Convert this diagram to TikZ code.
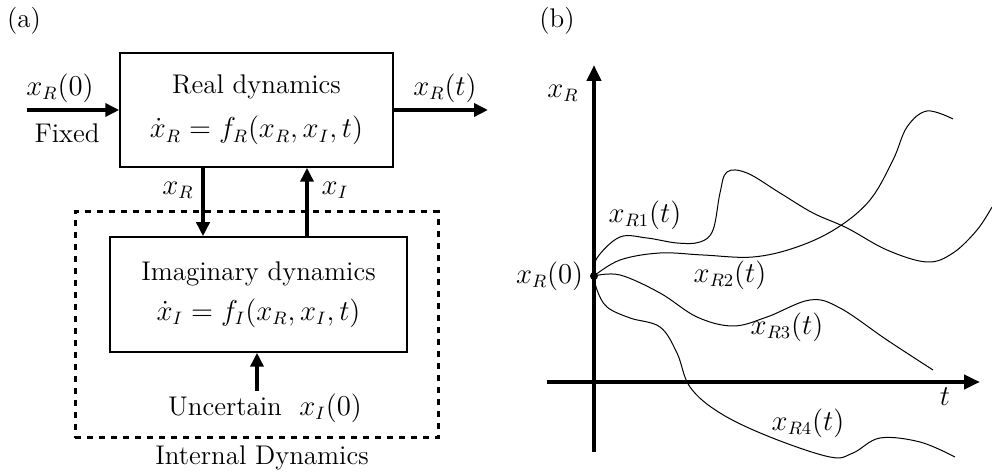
\documentclass[tikz,border=0pt]{standalone}
\usepackage{amsmath}
\usetikzlibrary{arrows.meta,positioning}

\begin{document}
\begin{tikzpicture}[
  x=0.5pt, y=-0.5pt,
  font=\fontsize{13.5}{16}\selectfont,
  blk/.style={draw, line width=0.75pt, inner sep=2pt, align=center},
  sig/.style={line width=2pt, -{Triangle[length=7pt,width=6.5pt]}},
  axis/.style={line width=2pt, -{Triangle[length=8pt,width=7pt]}},
  traj/.style={line width=0.5pt},
  lbl/.style={inner sep=1pt}
]
\useasboundingbox (0,0) rectangle (992,475);
% Panel (a): block diagram
\node[lbl] (tagA) at (24,21) {(a)};
\node[blk, minimum width=136.5pt, minimum height=57pt] (real) at (256.5,110)
  {Real dynamics\\[6pt] $\dot x_R = f_R(x_R, x_I, t)$};
\node[draw, dashed, line width=1.5pt, minimum width=181.5pt, minimum height=113pt] (internal) at (256.5,325) {};
\node[blk, minimum width=148.5pt, minimum height=57.5pt] (imag) at (258.5,294.5)
  {Imaginary dynamics\\[4pt] $\dot x_I = f_I(x_R, x_I, t)$};
\node[lbl] (intlbl) at (262,458) {Internal Dynamics};
\node[lbl] (unc) at (265,408) {Uncertain\ \ $x_I(0)$};
\coordinate (in) at (27,110);
\coordinate (out) at (488,110);
\node[lbl] (x0in) at (60,88) {$x_R(0)$};
\node[lbl] (fixed) at (67,133) {Fixed};
\node[lbl] (xtout) at (445,88) {$x_R(t)$};
\node[lbl] (xrdown) at (178,190) {$x_R$};
\node[lbl] (xiup) at (335,190) {$x_I$};
\draw[sig] (in) -- (real.west);
\draw[sig] (real.east) -- (out);
\draw[sig] (real.south -| 203,0) -- (imag.north -| 203,0);
\draw[sig] (imag.north -| 307,0) -- (real.south -| 307,0);
\draw[sig] (unc.north -| 257,0) -- (imag.south -| 257,0);
% Panel (b): trajectories
\node[lbl] (tagB) at (557,21) {(b)};
\coordinate (ybot) at (594,452);
\coordinate (ytop) at (594,65);
\coordinate (xleft) at (547,382);
\coordinate (xright) at (980,382);
\draw[axis] (ybot) -- (ytop);
\draw[axis] (xleft) -- (xright);
\node[lbl] (ylbl) at (563,93) {$x_R$};
\node[lbl] (tlbl) at (945,397) {$t$};
\node[circle, fill, inner sep=0pt, minimum size=4pt] (x0) at (594,276) {};
\node[lbl, left=2pt of x0] (x0lbl) {$x_R(0)$};
\draw[traj] plot[smooth, tension=0.6] coordinates {(594,276) (597,258) (620,237) (647,238)
  (677,243) (700,242) (713,230) (720,193) (727,172) (747,173) (780,193) (813,213)
  (847,228) (887,250) (927,262) (953,253) (977,230) (992,207)};
\draw[traj] plot[smooth, tension=0.6] coordinates {(594,276) (620,260) (660,253) (703,255)
  (753,257) (797,247) (837,228) (870,200) (893,160) (907,127) (927,111) (953,119)};
\draw[traj] plot[smooth, tension=0.6] coordinates {(594,276) (620,275) (660,293) (697,317)
  (733,326) (767,317) (810,300) (840,308) (887,340) (933,370)};
\draw[traj] plot[smooth, tension=0.6] coordinates {(594,276) (597,290) (607,307) (630,318)
  (660,327) (677,353) (690,387) (720,413) (770,437) (830,457) (853,453) (880,438)
  (920,442) (955,457)};
\node[lbl] (r1) at (645,215) {$x_{R1}(t)$};
\node[lbl] (r2) at (730,275) {$x_{R2}(t)$};
\node[lbl] (r3) at (787,327) {$x_{R3}(t)$};
\node[lbl] (r4) at (808,423) {$x_{R4}(t)$};
\end{tikzpicture}
\end{document}
